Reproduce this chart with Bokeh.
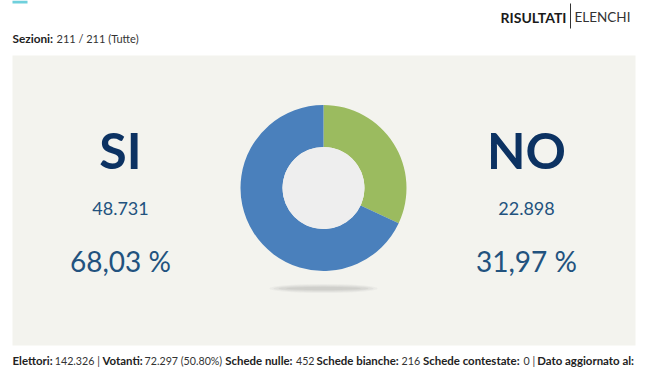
from bokeh.plotting import figure
from bokeh.models import Range1d, ColumnDataSource
from bokeh.core.properties import value
from bokeh.embed import file_html
from bokeh.resources import INLINE
import math

# ---- data ----
options = ["SI", "NO"]
votes = [48731, 22898]
vote_labels = ["48.731", "22.898"]
pct_labels = ["68,03 %", "31,97 %"]
slice_order = ["NO", "SI"]          # clockwise from 12 o'clock
slice_colors = {"NO": "#9bbb5f", "SI": "#4a80bc"}

sezioni_label = "Sezioni:"
sezioni_value = "211 / 211 (Tutte)"
footer_labels = ["Elettori:", "Votanti:", "Schede nulle:", "Schede bianche:", "Schede contestate:", "Dato aggiornato al:"]
footer_values = ["142.326 |", "72.297 (50.80%)", "452", "216", "0 |", ""]

W, H = 653, 367
def Y(sy):  # screen y -> data y
    return H - sy

p = figure(width=W, height=H, output_backend="svg", toolbar_location=None,
           x_range=Range1d(0, W), y_range=Range1d(0, H),
           min_border=0, outline_line_color=None, background_fill_color="white")
p.axis.visible = False
p.grid.visible = False

FONT = value("Lato")

# top-left accent
p.quad(left=[12], right=[27], top=[Y(0)], bottom=[Y(3)], fill_color="#6fd0dc", line_color=None)

# panel
p.quad(left=[12], right=[635], top=[Y(55)], bottom=[Y(345)], fill_color="#f3f3ee", line_color=None)

# header right
p.text(x=[566], y=[Y(16.5)], text=["RISULTATI"], text_align="right", text_baseline="middle",
       text_font=FONT, text_font_style="bold", text_font_size="14px", text_color="#1a1a1a")
p.segment(x0=[570], y0=[Y(3)], x1=[570], y1=[Y(28)], line_color="#333333", line_width=1)
p.text(x=[574], y=[Y(16.5)], text=["ELENCHI"], text_align="left", text_baseline="middle",
       text_font=FONT, text_font_size="13.5px", text_color="#333333")

# sezioni
p.text(x=[12], y=[Y(38)], text=[sezioni_label], text_baseline="middle",
       text_font=FONT, text_font_style="bold", text_font_size="11.8px", text_color="#222222")
p.text(x=[56], y=[Y(38)], text=[sezioni_value], text_baseline="middle",
       text_font=FONT, text_font_size="11px", text_color="#333333")

# donut
cx, cy = 323, Y(187.5)
total = sum(votes)
cum = 0.0
starts, ends, cols = [], [], []
for name in slice_order:
    v = votes[options.index(name)]
    frac0 = cum / total
    cum += v
    frac1 = cum / total
    starts.append(math.pi / 2 - frac0 * 2 * math.pi)
    ends.append(math.pi / 2 - frac1 * 2 * math.pi)
    cols.append(slice_colors[name])
src = ColumnDataSource(dict(start=starts, end=ends, color=cols, x=[cx] * len(cols), y=[cy] * len(cols)))

# shadow
for w, h, a in [(108, 9, 0.12), (100, 7, 0.18), (90, 5, 0.22), (75, 3, 0.25)]:
    p.ellipse(x=[cx], y=[Y(288)], width=w, height=h, fill_color="#b8b8b2", fill_alpha=a, line_color=None)

p.annular_wedge(x="x", y="y", inner_radius=41, outer_radius=83, inner_radius_units="screen",
                outer_radius_units="screen", start_angle="start", end_angle="end", direction="clock",
                fill_color="color", line_color=None, source=src)
p.circle(x=[cx], y=[cy], radius=41, radius_units="screen", fill_color="#eeeeee", line_color=None)

# side labels
centers = {"SI": 120, "NO": 526}
for i, name in enumerate(options):
    x = centers[name]
    p.text(x=[x], y=[Y(149.5)], text=[name], text_align="center", text_baseline="middle",
           text_font=FONT, text_font_style="bold", text_font_size="50px", text_color="#0c3262")
    p.text(x=[x], y=[Y(208)], text=[vote_labels[i]], text_align="center", text_baseline="middle",
           text_font=FONT, text_font_size="18px", text_color="#22527e")
    p.text(x=[x], y=[Y(260.5)], text=[pct_labels[i]], text_align="center", text_baseline="middle",
           text_font=FONT, text_font_size="28px", text_color="#22527e")

# footer: segments chained left to right
s = 0.97
bold_w = [39.5, 39.3, 68.8, 83.6, 99.5, 101.2]
val_w = [45, 79, 17, 18, 10, 0]
gap = 4
fy = Y(360)
xpos = 12
for lab, bw, val, vw in zip(footer_labels, bold_w, footer_values, val_w):
    p.text(x=[xpos], y=[fy], text=[lab], text_baseline="middle", text_font=FONT,
           text_font_style="bold", text_font_size=f"{11.8 * s:.2f}px", text_color="#222222")
    xpos += bw * s + gap
    if val:
        p.text(x=[xpos], y=[fy], text=[val], text_baseline="middle", text_font=FONT,
               text_font_size=f"{11 * s:.2f}px", text_color="#333333")
        xpos += vw * s + gap

open("out.html", "w").write(file_html(p, INLINE))
